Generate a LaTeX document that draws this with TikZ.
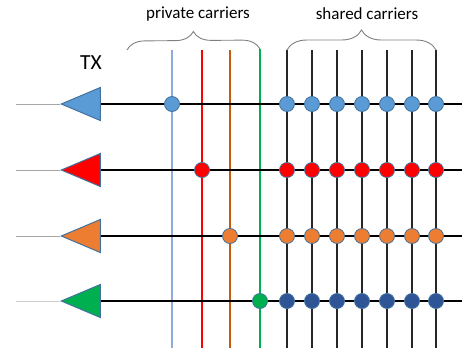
\documentclass[tikz,border=0pt]{standalone}
\usepackage{fontspec}
\setmainfont{Carlito}
\usetikzlibrary{shapes.geometric,decorations.pathreplacing,positioning}

\definecolor{txblue}{HTML}{5B9BD5}
\definecolor{txred}{HTML}{FF0000}
\definecolor{txorange}{HTML}{ED7D31}
\definecolor{txgreen}{HTML}{00B050}
\definecolor{txnavy}{HTML}{2F5597}
\definecolor{edgeblue}{HTML}{41719C}
\definecolor{lineblue}{HTML}{8FAADC}
\definecolor{linebrown}{HTML}{C55A11}
\definecolor{bracegray}{HTML}{808080}

\begin{document}
\begin{tikzpicture}[x=1pt,y=-1pt,
  tx/.style={isosceles triangle,shape border rotate=180,isosceles triangle stretches,
    minimum width=33pt,minimum height=39pt,inner sep=0pt,draw=edgeblue,line width=1pt,
    anchor=apex},
  dot/.style={circle,minimum size=15pt,inner sep=0pt,draw=edgeblue,line width=0.8pt},
  lead/.style={draw=gray!70,line width=0.9pt},
  bus/.style={draw=black,line width=1.8pt},
  shared/.style={draw=black!85,line width=1.5pt},
  private/.style={line width=1.1pt},
  brace/.style={decorate,draw=bracegray,line width=0.9pt},
  label/.style={inner sep=0pt,font=\fontsize{17}{20}\selectfont}]
\useasboundingbox (0,0) rectangle (464,354);

% transmitters
\node[tx,fill=txblue] (t1) at (60,104) {};
\node[tx,fill=txred] (t2) at (60,170) {};
\node[tx,fill=txorange] (t3) at (60,236) {};
\node[tx,fill=txgreen] (t4) at (60,301) {};
\node[inner sep=0pt,font=\fontsize{21.5}{26}\selectfont] (txlabel) at (91,63) {TX};

\coordinate (w1) at (16,104);
\coordinate (w2) at (16,170);
\coordinate (w3) at (16,236);
\coordinate (w4) at (16,301);
\coordinate (e1) at (462,104);
\coordinate (e2) at (462,170);
\coordinate (e3) at (462,236);
\coordinate (e4) at (462,301);

% private carriers
\coordinate (btop) at (172,50);  \coordinate (bbot) at (172,348);
\coordinate (rtop) at (202,50);  \coordinate (rbot) at (202,348);
\coordinate (otop) at (230,50);  \coordinate (obot) at (230,348);
\coordinate (gtop) at (260,49);  \coordinate (gbot) at (260,348);
\draw[private,lineblue] (btop) -- (bbot);
\draw[private,txred] (rtop) -- (rbot);
\draw[private,linebrown] (otop) -- (obot);
\draw[private,txgreen] (gtop) -- (gbot);

% shared carriers
\foreach \x [count=\k] in {287,312,337,362,387,412,436} {
  \coordinate (top\k) at (\x,50);
  \coordinate (bot\k) at (\x,348);
  \draw[shared] (top\k) -- (bot\k);
}

% lines to the transmitters
\draw[lead] (w1) -- (t1.apex);
\draw[lead] (w2) -- (t2.apex);
\draw[lead] (w3) -- (t3.apex);
\draw[lead,draw=gray!40] (w4) -- (t4.apex);
\draw[bus] (t1.east) -- (e1);
\draw[bus] (t2.east) -- (e2);
\draw[bus] (t3.east) -- (e3);
\draw[bus] (t4.east) -- (e4);

% carrier dots
\node[dot,fill=txblue] (p1) at (btop |- t1.apex) {};
\node[dot,fill=txred] (p2) at (rtop |- t2.apex) {};
\node[dot,fill=txorange] (p3) at (otop |- t3.apex) {};
\node[dot,fill=txgreen] (p4) at (gtop |- t4.apex) {};
\foreach \i/\c in {1/txblue,2/txred,3/txorange,4/txnavy}
  \foreach \k in {1,...,7}
    \node[dot,fill=\c] (d\i\k) at (top\k |- t\i.apex) {};

% braces
\coordinate (pwest) at (127,50);
\draw[brace,decoration={brace,amplitude=18pt}] (pwest) -- (gtop);
\draw[brace,decoration={brace,amplitude=20pt}] (top1) -- (top7);
\node[label] (plabel) at (198,14) {private carriers};
\node[label] (slabel) at (367,14) {shared carriers};
\end{tikzpicture}
\end{document}
